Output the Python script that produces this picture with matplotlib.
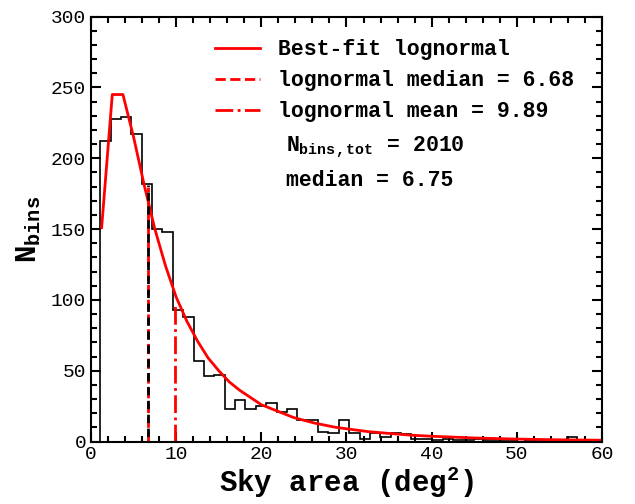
import numpy as np
import matplotlib
matplotlib.use('Agg')
from matplotlib import pyplot as plt
from matplotlib.ticker import MultipleLocator

plt.rcParams['font.family'] = ['Liberation Mono', 'DejaVu Sans']
plt.rcParams['mathtext.fontset'] = 'custom'
plt.rcParams['mathtext.rm'] = 'Liberation Mono:bold'
plt.rcParams['mathtext.it'] = 'Liberation Mono:bold'
plt.rcParams['mathtext.bf'] = 'Liberation Mono:bold'

# histogram of sky areas (deg^2), counts per bin
bin_start = 1.08
bin_width = 1.218
counts = [212, 228, 229, 217, 182, 150, 148, 93, 88, 57,
          46, 47, 23, 29, 23, 25, 27, 21, 23, 15,
          15, 7, 6, 15, 6, 2, 6, 3, 6, 5,
          2, 2, 1, 2, 1, 1, 2, 1, 1, 1,
          0, 1, 1, 1, 1, 3, 1, 1, 0]

# best-fit lognormal curve
fit_x = [1.25, 2.5, 3.75, 5.0, 6.25, 7.5, 8.75, 10.0, 11.25, 12.5,
         13.75, 15.0, 16.25, 17.5, 18.75, 20.0, 21.25, 22.5, 23.75, 25.0,
         26.25, 27.5, 28.75, 30.0, 32.5, 35.0, 37.5, 40.0, 45.0, 50.0,
         55.0, 60.0]
fit_y = [151, 245, 245, 215, 181, 150, 124, 102, 85, 71,
         59, 50, 42, 36, 31, 26, 23, 20, 17, 15,
         13, 11.5, 10, 9, 7, 5.7, 4.5, 3.7, 2.5, 1.7,
         1.2, 0.9]

lognorm_median = 6.68
lognorm_mean = 9.89
data_median = 6.75
n_tot = 2010
median_top = 181
lognorm_median_top = 180
lognorm_mean_top = 98

edges = bin_start + bin_width*np.arange(len(counts) + 1)

fig = plt.figure(figsize=(6.35, 5.04), dpi=100)
ax = fig.add_axes([0.1433, 0.124, 0.8047, 0.843])

ax.stairs(counts, edges, color='k', lw=1.2, baseline=0)
ax.plot(fit_x, fit_y, color='red', lw=2, label='Best-fit lognormal')
ax.plot([lognorm_median, lognorm_median], [0, lognorm_median_top], color='red',
        ls='--', lw=2, label='lognormal median = %.2f' % lognorm_median)
ax.plot([data_median, data_median], [0, median_top], color='k', ls=(3, (3, 2)), lw=2)
ax.plot([lognorm_mean, lognorm_mean], [0, lognorm_mean_top], color='red',
        ls='-.', lw=2, label='lognormal mean = %.2f' % lognorm_mean)

ax.text(22.9, 208, r'$N_{bins,tot}$ = %d' % n_tot, fontsize=15.5,
        fontweight='bold', va='center')
ax.text(22.9, 184, 'median = %.2f' % data_median, fontsize=15.5,
        fontweight='bold', va='center')

ax.set_xlim(0, 60)
ax.set_ylim(0, 300)
ax.xaxis.set_major_locator(MultipleLocator(10))
ax.xaxis.set_minor_locator(MultipleLocator(2))
ax.yaxis.set_major_locator(MultipleLocator(50))
ax.yaxis.set_minor_locator(MultipleLocator(10))
ax.tick_params(which='both', direction='in', top=True, right=True, width=1.5,
               labelsize=14)
ax.tick_params(which='major', length=7)
ax.tick_params(which='minor', length=4)
for s in ax.spines.values():
    s.set_linewidth(1.5)

ax.set_xlabel(r'Sky area (deg$^2$)', fontsize=21, fontweight='bold', labelpad=1)
ax.set_ylabel(r'$N_{bins}$', fontsize=21, labelpad=6)

ax.legend(loc='upper left', bbox_to_anchor=(0.226, 0.967), frameon=False,
          prop=dict(family='Liberation Mono', weight='bold', size=15.5),
          handlelength=2.1, handletextpad=0.84, labelspacing=0.47,
          borderaxespad=0)

fig.savefig('out.png', dpi=100)
